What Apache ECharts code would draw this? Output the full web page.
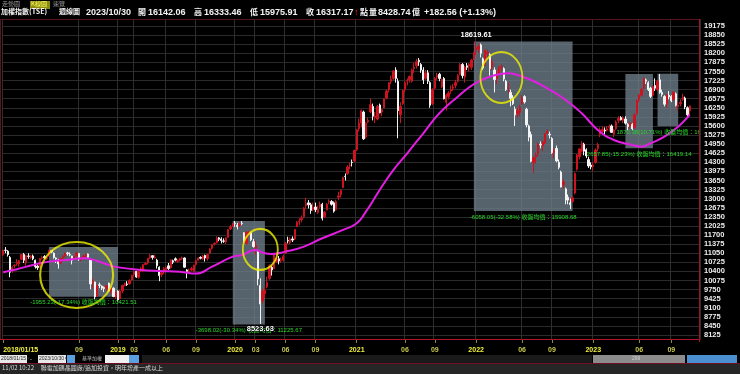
<!DOCTYPE html>
<html><head><meta charset="utf-8">
<script src="https://cdn.jsdelivr.net/npm/echarts@6/dist/echarts.min.js"></script>
<style>html,body{margin:0;padding:0;background:#000;overflow:hidden}#c{width:740px;height:374px}</style>
</head><body><div id="c"></div>
<script>
// ---------- data ----------
const firstWeek = '2018/01/15';
const skippedWeeks = ['2019/02/04', '2022/01/31', '2023/01/23']; // no trading (Lunar New Year)
// weekly candles: [open, close, low, high]
const ohlc2018 = [
[10990,11150,10960,11180],[11160,11150,11050,11270],[11120,11000,10930,11160],[10900,10370,10190,10950],[10450,10550,10350,10580],
[10600,10620,10510,10660],[10680,10720,10600,10840],[10670,10780,10570,10800],[10830,11000,10800,11030],[11000,10800,10700,11060],
[10700,10960,10600,10990],[10950,10940,10850,11050],[10900,10950,10830,10990],[10950,10850,10800,11000],[10800,10570,10500,10820],
[10590,10530,10450,10640],[10550,10860,10540,10880],[10870,10900,10820,10960],[10930,10880,10840,10980],[10860,10900,10800,10970],
[10950,11160,10930,11170],[11140,11090,11050,11150],[11050,10900,10850,11080],[10880,10840,10700,10900],[10800,10670,10500,10850],
[10700,10860,10680,10880],[10880,10940,10830,10990],[10950,11050,10900,11070],[11060,11030,10960,11100],[11000,10990,10940,11080],
[10950,10800,10650,10960],[10830,10930,10800,10950],[10950,11060,10920,11090],[11040,10850,10780,11060],[10840,10860,10760,10900],
[10880,10950,10830,10990],[10960,11000,10900,11050],[11020,10900,10840,11040],[10800,9950,9760,10820],[9990,10050,9780,10150],
[10020,9490,9400,10040],[9520,9900,9480,9920],[9920,9900,9800,10000],[9870,9800,9730,9900],[9820,9790,9660,9860],
[9790,9890,9700,9920],[9980,9700,9680,10000],[9680,9800,9580,9820],[9800,9500,9480,9830],[9480,9650,9410,9680],
[9700,9380,9320,9720]
];
const ohlc2019 = [
[9420,9690,9400,9740],[9700,9900,9620,9920],[9900,9960,9860,10000],[9950,9930,9880,10050],[9950,10070,9930,10120],
[10090,10250,10060,10290],[10280,10390,10220,10400],[10400,10200,10170,10420],[10190,10400,10140,10420],[10420,10500,10380,10560],
[10420,10640,10370,10660],[10650,10680,10620,10730],[10700,10870,10650,10870],[10880,10960,10850,11020],[10960,10900,10820,10980],
[10880,10900,10860,10990],[10800,10600,10500,10850],[10550,10250,10050,10580],[10280,10350,10200,10420],[10380,10500,10300,10560],
[10450,10550,10370,10570],[10600,10500,10450,10700],[10530,10800,10500,10830],[10780,10730,10660,10820],[10850,10800,10760,10900],
[10760,10790,10700,10830],[10800,10850,10750,10880],[10860,10880,10800,10930],[10880,10550,10530,10900],[10450,10400,10150,10480],
[10380,10410,10300,10500],[10450,10500,10410,10560],[10400,10620,10380,10640],[10650,10780,10600,10800],[10800,10880,10780,10900],
[10900,10870,10830,10940],[10850,10950,10820,10980],[10970,10880,10750,11000],[10860,11000,10780,11020],[11050,11200,11030,11230],
[11220,11350,11180,11380],[11380,11400,11320,11440],[11420,11580,11400,11650],[11600,11550,11480,11630],[11560,11500,11400,11620],
[11490,11480,11420,11580],[11450,11600,11380,11620],[11620,11900,11600,11920],[11920,12000,11880,12060],[12020,12100,11990,12140],
[12120,12110,11990,12200]
];
const ohlc2020 = [
[12050,12000,11900,12130],[12050,12090,11990,12180],[12120,12110,12050,12200],[11780,11500,11420,11800],[11400,11800,11350,11830],
[11750,11800,11650,11850],[11780,11530,11480,11810],[11460,11290,11250,11560],[11230,11320,11000,11500],[11100,10130,9900,11150],
[9900,9230,8524,10150],[9340,9700,9250,9800],[9600,9710,9450,9850],[9850,10000,9800,10210],[10150,10600,10100,10650],
[10550,10450,10250,10600],[10500,10990,10500,11000],[10750,10840,10700,10900],[10850,10770,10650,10950],[10800,10810,10700,10900],
[10800,10940,10750,11000],[11050,11400,11020,11450],[11500,11490,11400,11640],[11420,11560,11380,11610],[11560,11520,11450,11650],
[11560,11900,11520,11910],[12000,12160,11980,12200],[12170,12200,12050,12300],[12250,12300,12150,12400],[12350,12660,12300,12700],
[12750,12830,12640,13030],[12850,12780,12650,12950],[12780,12580,12460,12850],[12620,12680,12550,12860],[12700,12610,12520,12860],
[12500,12620,12450,12750],[12700,12800,12650,12900],[12800,12300,12220,12850],[12350,12520,12300,12560],[12600,12800,12580,12850],
[12880,12900,12800,12980],[12900,12800,12750,12950],[12850,12550,12500,12900],[12600,12900,12580,12960],[13050,13100,12950,13250],
[13150,13300,13050,13330],[13400,13750,13380,13780],[13800,13790,13650,13900],[13900,14130,13850,14200],[14180,14200,14050,14300],
[14300,14290,14150,14400],[14350,14730,14300,14750]
];
const ohlc2021 = [
[14750,15460,14700,15500],[15500,15700,15400,15860],[15700,16150,15550,16190],[16100,15140,15100,16150],[15200,15700,15150,15750],
[15750,15800,15700,15900],[16100,16360,16050,16580],[16300,15950,15800,16400],[15900,15950,15700,16100],[15850,16300,15800,16350],
[16350,16070,16050,16400],[16100,16180,15950,16220],[16250,16570,16250,16580],[16600,16850,16550,16900],[16900,17150,16800,17160],
[17200,17270,17100,17400],[17300,17570,17250,17600],[17600,17300,17150,17700],[17200,16150,15160,17300],[16000,16300,15700,16450],
[16400,16870,16350,16900],[16900,17150,16800,17200],[17200,17210,17050,17300],[17250,17370,17150,17400],[17200,17600,17150,17650],
[17650,17700,17500,17850],[17750,17900,17650,18000],[17950,17900,17750,18030],[17800,17600,17500,17850],[17600,17250,17100,17700],
[17300,17500,17250,17600],[17500,17200,17100,17600],[17150,16340,16250,17200],[16400,16900,16350,16950],[16950,17300,16900,17350],
[17350,17400,17250,17500],[17450,17300,17200,17500],[17000,17260,16950,17300],[17300,16570,16550,17350],[16450,16700,16150,16750],
[16650,16780,16550,16850],[16850,16900,16750,17050],[16950,16990,16850,17100],[17050,17150,16950,17250],[17200,17400,17150,17450],
[17450,17800,17400,17850],[17800,17400,17300,17850],[17350,17700,17150,17750],[17750,17700,17600,17850],[17750,17800,17550,17850],
[17700,17960,17600,18000],[18000,18220,17950,18250]
];
const ohlc2022 = [
[18300,18400,18150,18620],[18350,18450,18200,18550],[18500,18200,18050,18550],[18000,17670,17600,18050],[17800,18300,17750,18350],
[18200,18230,18000,18330],[18150,17650,17400,18200],[17700,17900,17600,18000],[17600,17260,16800,17700],[17300,17400,17100,17600],
[17450,17680,17400,17750],[17700,17710,17550,17800],[17650,17280,17200,17700],[17200,16900,16850,17250],[16950,16970,16750,17150],
[16800,16590,16300,16900],[16600,16400,16350,16700],[16200,16000,15600,16300],[16050,16140,15900,16250],[16100,16270,15950,16350],
[16400,16600,16350,16700],[16650,16460,16400,16700],[16200,15640,15550,16250],[15600,15200,15050,15650],[15300,14340,14300,15400],
[14300,14460,13930,14500],[14500,14550,14250,14650],[14600,14950,14500,15000],[14950,14920,14800,15050],[14900,15030,14700,15080],
[15000,15320,14950,15350],[15350,15410,15300,15480],[15300,15280,15150,15400],[15150,14650,14600,15200],[14650,14710,14450,14800],
[14800,14350,14300,14900],[14300,14120,14050,14400],[13950,13420,13400,14000],[13500,13590,13350,13700],[13350,12950,12800,13400],
[13050,12950,12800,13150],[12850,12790,12630,13000],[12900,13030,12850,13100],[13200,13900,13150,13950],[14050,14560,14000,14600],
[14500,14780,14400,14800],[14700,14970,14650,15050],[14950,14700,14550,15000],[14750,14530,14450,14800],[14400,14170,14100,14500],
[14200,14140,14050,14300]
];
const ohlc2023 = [
[14150,14200,13980,14300],[14300,14740,14250,14800],[14800,14930,14700,15000],[15300,15460,15200,15550],[15400,15480,15350,15600],
[15450,15420,15300,15550],[15450,15500,15400,15600],[15550,15590,15400,15650],[15600,15370,15350,15650],[15300,15450,15200,15500],
[15500,15740,15450,15800],[15800,15870,15700,15950],[15900,15820,15800,15950],[15800,15880,15700,15950],[15850,15700,15650,15950],
[15650,15580,15450,15700],[15600,15700,15500,15750],[15650,15500,15450,15700],[15550,16000,15500,16050],[16050,16500,16000,16550],
[16550,16700,16450,16750],[16700,16900,16650,16950],[16950,17290,16900,17330],[17250,17200,17100,17300],[17150,16900,16850,17200],
[16950,16660,16600,17000],[16700,17000,16650,17050],[17050,16950,16850,17300],[16900,17200,16850,17250],[17250,16800,16750,17460],
[16800,16730,16650,16900],[16650,16380,16300,16700],[16400,16700,16250,16750],[16700,16640,16550,16850],[16650,16500,16450,16700],
[16550,16800,16500,16850],[16750,16340,16300,16800],[16300,16350,16150,16450],[16400,16450,16300,16550],[16550,16630,16500,16750],
[16600,16280,16200,16650],[16250,16000,15900,16300],[16142.06,16317.17,15975.91,16333.46]
];
// magenta moving-average line: [week, value]
const maLine = [
['2018/01/15',10370],['2018/02/26',10477],['2018/04/16',10631],['2018/06/04',10749],['2018/07/30',10810],['2018/09/17',10870],
['2018/10/29',10774],['2018/12/03',10631],['2019/01/07',10534],['2019/03/18',10452],['2019/05/13',10416],['2019/07/15',10391],
['2019/09/02',10320],['2019/10/21',10570],['2019/12/23',10927],['2020/01/20',10988],['2020/03/02',11167],['2020/03/23',11070],
['2020/04/20',11024],['2020/06/01',11106],['2020/07/27',11285],['2020/09/21',11585],['2020/11/23',11882],['2021/01/04',12121],
['2021/02/01',12536],['2021/03/15',13312],['2021/04/26',14027],['2021/06/07',14624],['2021/07/26',15339],['2021/09/13',16054],
['2021/11/08',16647],['2021/12/13',16984],['2022/01/10',17184],['2022/02/28',17387],['2022/04/18',17484],['2022/05/16',17423],
['2022/06/27',17244],['2022/08/15',16948],['2022/10/10',16529],['2022/11/28',16054],['2023/01/16',15457],['2023/03/13',15099],
['2023/05/08',14921],['2023/06/05',14860],['2023/07/03',14982],['2023/08/14',15217],['2023/09/25',15575],['2023/10/30',15993]
];
// shaded ranges
const zoneFrom = ['2018/06/04','2019/12/23','2021/12/27','2023/04/17','2023/07/24'];
const zoneTo = ['2018/12/31','2020/03/30','2022/10/31','2023/07/10','2023/09/25'];
const zoneTop = [11274, 12205, 18620, 17460, 17465];
const zoneBottom = [9490, 8500, 12560, 14802, 15590];
const zoneCaption = ['-1955.23(-17.34%) 收盤均價：10421.51','-3698.02(-30.34%) 收盤均價：11225.67','-6058.05(-32.58%) 收盤均價：15908.68','2657.85(-15.23%) 收盤均價：16419.14','1870.38(10.71%) 收盤均價：16790.45'];
// yellow circles
const ringWeeks = ['2018/08/27','2020/03/16','2022/03/28'];
const ringValues = [10273, 11185, 17334];
const ringW = [73, 35, 42];
const ringH = [66, 41, 51];
// extreme labels
const peakWeek = '2022/01/03', peakValue = 18619.61;
const troughWeek = '2020/03/16', troughValue = 8523.63;
// axis
const tickWeeks = ['2018/01/15','2018/09/03','2018/12/31','2019/02/25','2019/06/03','2019/09/02','2019/12/30','2020/03/02','2020/06/01','2020/08/31','2021/01/04','2021/05/31','2021/08/30','2022/01/03','2022/05/30','2022/08/29','2023/01/02','2023/05/29','2023/09/04'];
const tickTexts = ['2018/01/15','09','2019','03','06','09','2020','03','06','09','2021','06','09','2022','06','09','2023','06','09'];
const priceMin = 8125, priceMax = 19175, priceStep = 325;

// ---------- build ----------
const ohlc = [].concat(ohlc2018, ohlc2019, ohlc2020, ohlc2021, ohlc2022, ohlc2023);
function fmt(d){const m=d.getUTCMonth()+1, dd=d.getUTCDate();return d.getUTCFullYear()+'/'+(m<10?'0':'')+m+'/'+(dd<10?'0':'')+dd;}
const weeks = [];
{ const p = firstWeek.split('/'); let t = Date.UTC(+p[0], +p[1]-1, +p[2]);
  while (weeks.length < ohlc.length + 4) { const s = fmt(new Date(t)); if (skippedWeeks.indexOf(s) < 0) weeks.push(s); t += 7*864e5; } }
const tickMap = {}; tickWeeks.forEach((w,i)=>tickMap[w]=tickTexts[i]);
const isTick = (i, v) => tickMap[v] !== undefined;

const FONT = '"Liberation Sans","Noto Sans CJK TC",sans-serif';
const CJK = '"Noto Sans CJK TC","Liberation Sans",sans-serif';
const W = '#f4f4f4';
const hdr = (x, t, f, c) => ({type:'text', x:x, y:8, style:{text:t, fill:c||W, font:f}});
const NUM = 'bold 9px '+FONT, HAN = 'bold 8px '+CJK;

const chart = echarts.init(document.getElementById('c'), null, {renderer:'canvas'});

chart.setOption({
  backgroundColor: '#000',
  animation: false,
  grid: [
    {left: 2, right: 40, top: 26, bottom: 39},
    {left: 2, right: 40, top: 19, bottom: 35}
  ],
  xAxis: [
    {type:'category', data: weeks, gridIndex:0, show:false},
    {type:'category', data: weeks, gridIndex:1,
      axisLine:{show:true, lineStyle:{color:'#b0142a', width:1}},
      axisTick:{show:true, interval:isTick, alignWithLabel:true, length:4, lineStyle:{color:'#8c8c30'}},
      axisLabel:{interval:isTick, margin:8, alignMinLabel:'left', fontFamily:FONT, fontSize:7, fontWeight:'bold', color:'#c8c850',
        formatter:(v)=>{const t=tickMap[v]; if(!t) return ''; return t.length>2?'{y|'+t+'}':'{m|'+t+'}';},
        rich:{y:{color:'#f0f040', fontWeight:'bold', fontSize:7, fontFamily:FONT}, m:{color:'#c8c850', fontWeight:'bold', fontSize:7, fontFamily:FONT}}},
      splitLine:{show:true, interval:isTick, lineStyle:{color:'#2e2e2e', width:1}}
    }
  ],
  yAxis: [
    {type:'value', gridIndex:0, position:'right', min:priceMin, max:priceMax, interval:priceStep, scale:true,
      axisLine:{show:false}, axisTick:{show:false},
      axisLabel:{margin:4, color:'#ececec', fontFamily:FONT, fontSize:7.5, fontWeight:'bold', formatter:(v)=>String(v)},
      splitLine:{lineStyle:{color:'#2a2a2a', width:1}}},
    {type:'value', gridIndex:1, min:0, max:1, show:false}
  ],
  graphic: [
    {type:'rect', shape:{x:0.5, y:19.5, width:699, height:320}, style:{fill:null, stroke:'#5a1420', lineWidth:1}, z:0, silent:true},
    {type:'line', shape:{x1:0, y1:339.5, x2:700, y2:339.5}, style:{stroke:'#b0142a', lineWidth:1}, z:10},
    {type:'line', shape:{x1:699.5, y1:19, x2:699.5, y2:342}, style:{stroke:'#a0142a', lineWidth:1}, z:10},
    // tabs
    {type:'text', x:2, y:1, style:{text:'走勢圖', fill:'#9a9a9a', font:'6px '+CJK}},
    {type:'rect', shape:{x:30, y:1, width:20, height:8}, style:{fill:'#8a8a10'}},
    {type:'text', x:31, y:1, style:{text:'K線圖', fill:'#ffff60', font:'6px '+CJK}},
    {type:'text', x:53, y:1, style:{text:'速覽', fill:'#9a9a9a', font:'6px '+CJK}},
    // header
    hdr(1, '加權指數(TSE)', 'bold 7px '+CJK),
    hdr(59, '週線圖', 'bold 7px '+CJK),
    hdr(86, '2023/10/30', NUM),
    hdr(138, '開', HAN), hdr(148, '16142.06', NUM),
    hdr(194, '高', HAN), hdr(204, '16333.46', NUM),
    hdr(250, '低', HAN), hdr(260, '15975.91', NUM),
    hdr(306, '收', HAN), hdr(316, '16317.17', NUM),
    hdr(354, '↑', 'bold 9px '+FONT, '#ff2020'),
    hdr(360, '點', HAN), hdr(369, '量', HAN), hdr(378, '8428.74', NUM), hdr(412, '億', HAN),
    hdr(424, '+182.56 (+1.13%)', NUM),
    // bottom controls
    {type:'rect', shape:{x:0, y:355, width:27, height:8}, style:{fill:'#e8e8e8'}},
    {type:'text', x:1, y:356, style:{text:'2018/01/15 ▾', fill:'#202020', font:'5px '+FONT}},
    {type:'text', x:30, y:356, style:{text:'-', fill:'#cccccc', font:'6px '+FONT}},
    {type:'rect', shape:{x:38, y:355, width:28, height:8}, style:{fill:'#e8e8e8'}},
    {type:'text', x:39, y:356, style:{text:'2023/10/30 ▾', fill:'#202020', font:'5px '+FONT}},
    {type:'rect', shape:{x:67, y:355, width:8, height:8}, style:{fill:'#5aa0e0'}},
    {type:'text', x:82, y:356, style:{text:'基準加權', fill:'#bbbbbb', font:'5px '+CJK}},
    {type:'rect', shape:{x:105, y:355, width:24, height:8}, style:{fill:'#f0f0f0'}},
    {type:'rect', shape:{x:129, y:355, width:10, height:8}, style:{fill:'#5aa0e0'}},
    {type:'rect', shape:{x:142, y:355, width:450, height:8}, style:{fill:'#1a1a1a'}},
    {type:'rect', shape:{x:593, y:355, width:92, height:8}, style:{fill:'#8c8c8c'}},
    {type:'text', x:632, y:356, style:{text:'299', fill:'#cfcfcf', font:'5px '+FONT}},
    {type:'rect', shape:{x:687, y:355, width:50, height:8}, style:{fill:'#4a90d0'}},
    {type:'line', shape:{x1:0, y1:363.5, x2:740, y2:363.5}, style:{stroke:'#701020', lineWidth:1}},
    {type:'rect', shape:{x:0, y:364, width:740, height:10}, style:{fill:'#262626'}},
    {type:'text', x:2, y:365, style:{text:'11/02 10:22     聯電加碼晶圓廠/追加投資，明年增產一成以上', fill:'#d8d8d8', font:'6px '+CJK}}
  ],
  series: [
    {type:'candlestick', xAxisIndex:0, yAxisIndex:0, data: ohlc, barWidth:1.8, z:3,
      itemStyle:{color:'#cc1420', color0:'#f4f4f4', borderColor:'#cc1420', borderColor0:'#f4f4f4', borderWidth:1},
      markArea:{silent:true, itemStyle:{color:'rgba(110,126,138,0.78)'},
        data: zoneFrom.map((f,i)=>[{xAxis:f, yAxis:zoneTop[i]},{xAxis:zoneTo[i], yAxis:zoneBottom[i]}])}
    },
    {type:'line', xAxisIndex:0, yAxisIndex:0, data: maLine, smooth:0.5, showSymbol:false, z:5,
      lineStyle:{color:'#e21ee2', width:2}},
    {type:'scatter', xAxisIndex:0, yAxisIndex:0, z:6, silent:true,
      data: ringWeeks.map((w,i)=>({value:[w, ringValues[i]], symbolSize:[ringW[i], ringH[i]]})),
      symbol:'circle', itemStyle:{color:'rgba(0,0,0,0)', borderColor:'#f0f000', borderWidth:2}},
    {type:'custom', xAxisIndex:0, yAxisIndex:0, z:7, clip:true, silent:true,
      data: [
        ...zoneCaption.map((t,i)=>[weeks.indexOf(zoneFrom[i]), zoneBottom[i], i]),
        [weeks.indexOf(peakWeek), peakValue, 100],
        [weeks.indexOf(troughWeek), troughValue, 101]
      ],
      renderItem:(params, api)=>{
        const k = api.value(2);
        if (k < 100) {
          const a = api.coord([weeks.indexOf(zoneFrom[k]), zoneBottom[k]]);
          const b = api.coord([weeks.indexOf(zoneTo[k]), zoneBottom[k]]);
          return {type:'text', x:(a[0]+b[0])/2, y:a[1]+3, style:{text:zoneCaption[k], fill:'#29d829', font:'6px '+FONT, align:'center', verticalAlign:'top'}};
        }
        const p = api.coord([api.value(0), api.value(1)]);
        const txt = k===100 ? peakValue.toFixed(2) : troughValue.toFixed(2);
        return {type:'text', x:p[0], y:p[1]+(k===100?-3:1), style:{text:txt, fill:'#ffffff', font:'bold 7.5px '+FONT, align:'center', verticalAlign:k===100?'bottom':'top', stroke:'#000', lineWidth:1}};
      }
    }
  ]
});
</script>
</body></html>
